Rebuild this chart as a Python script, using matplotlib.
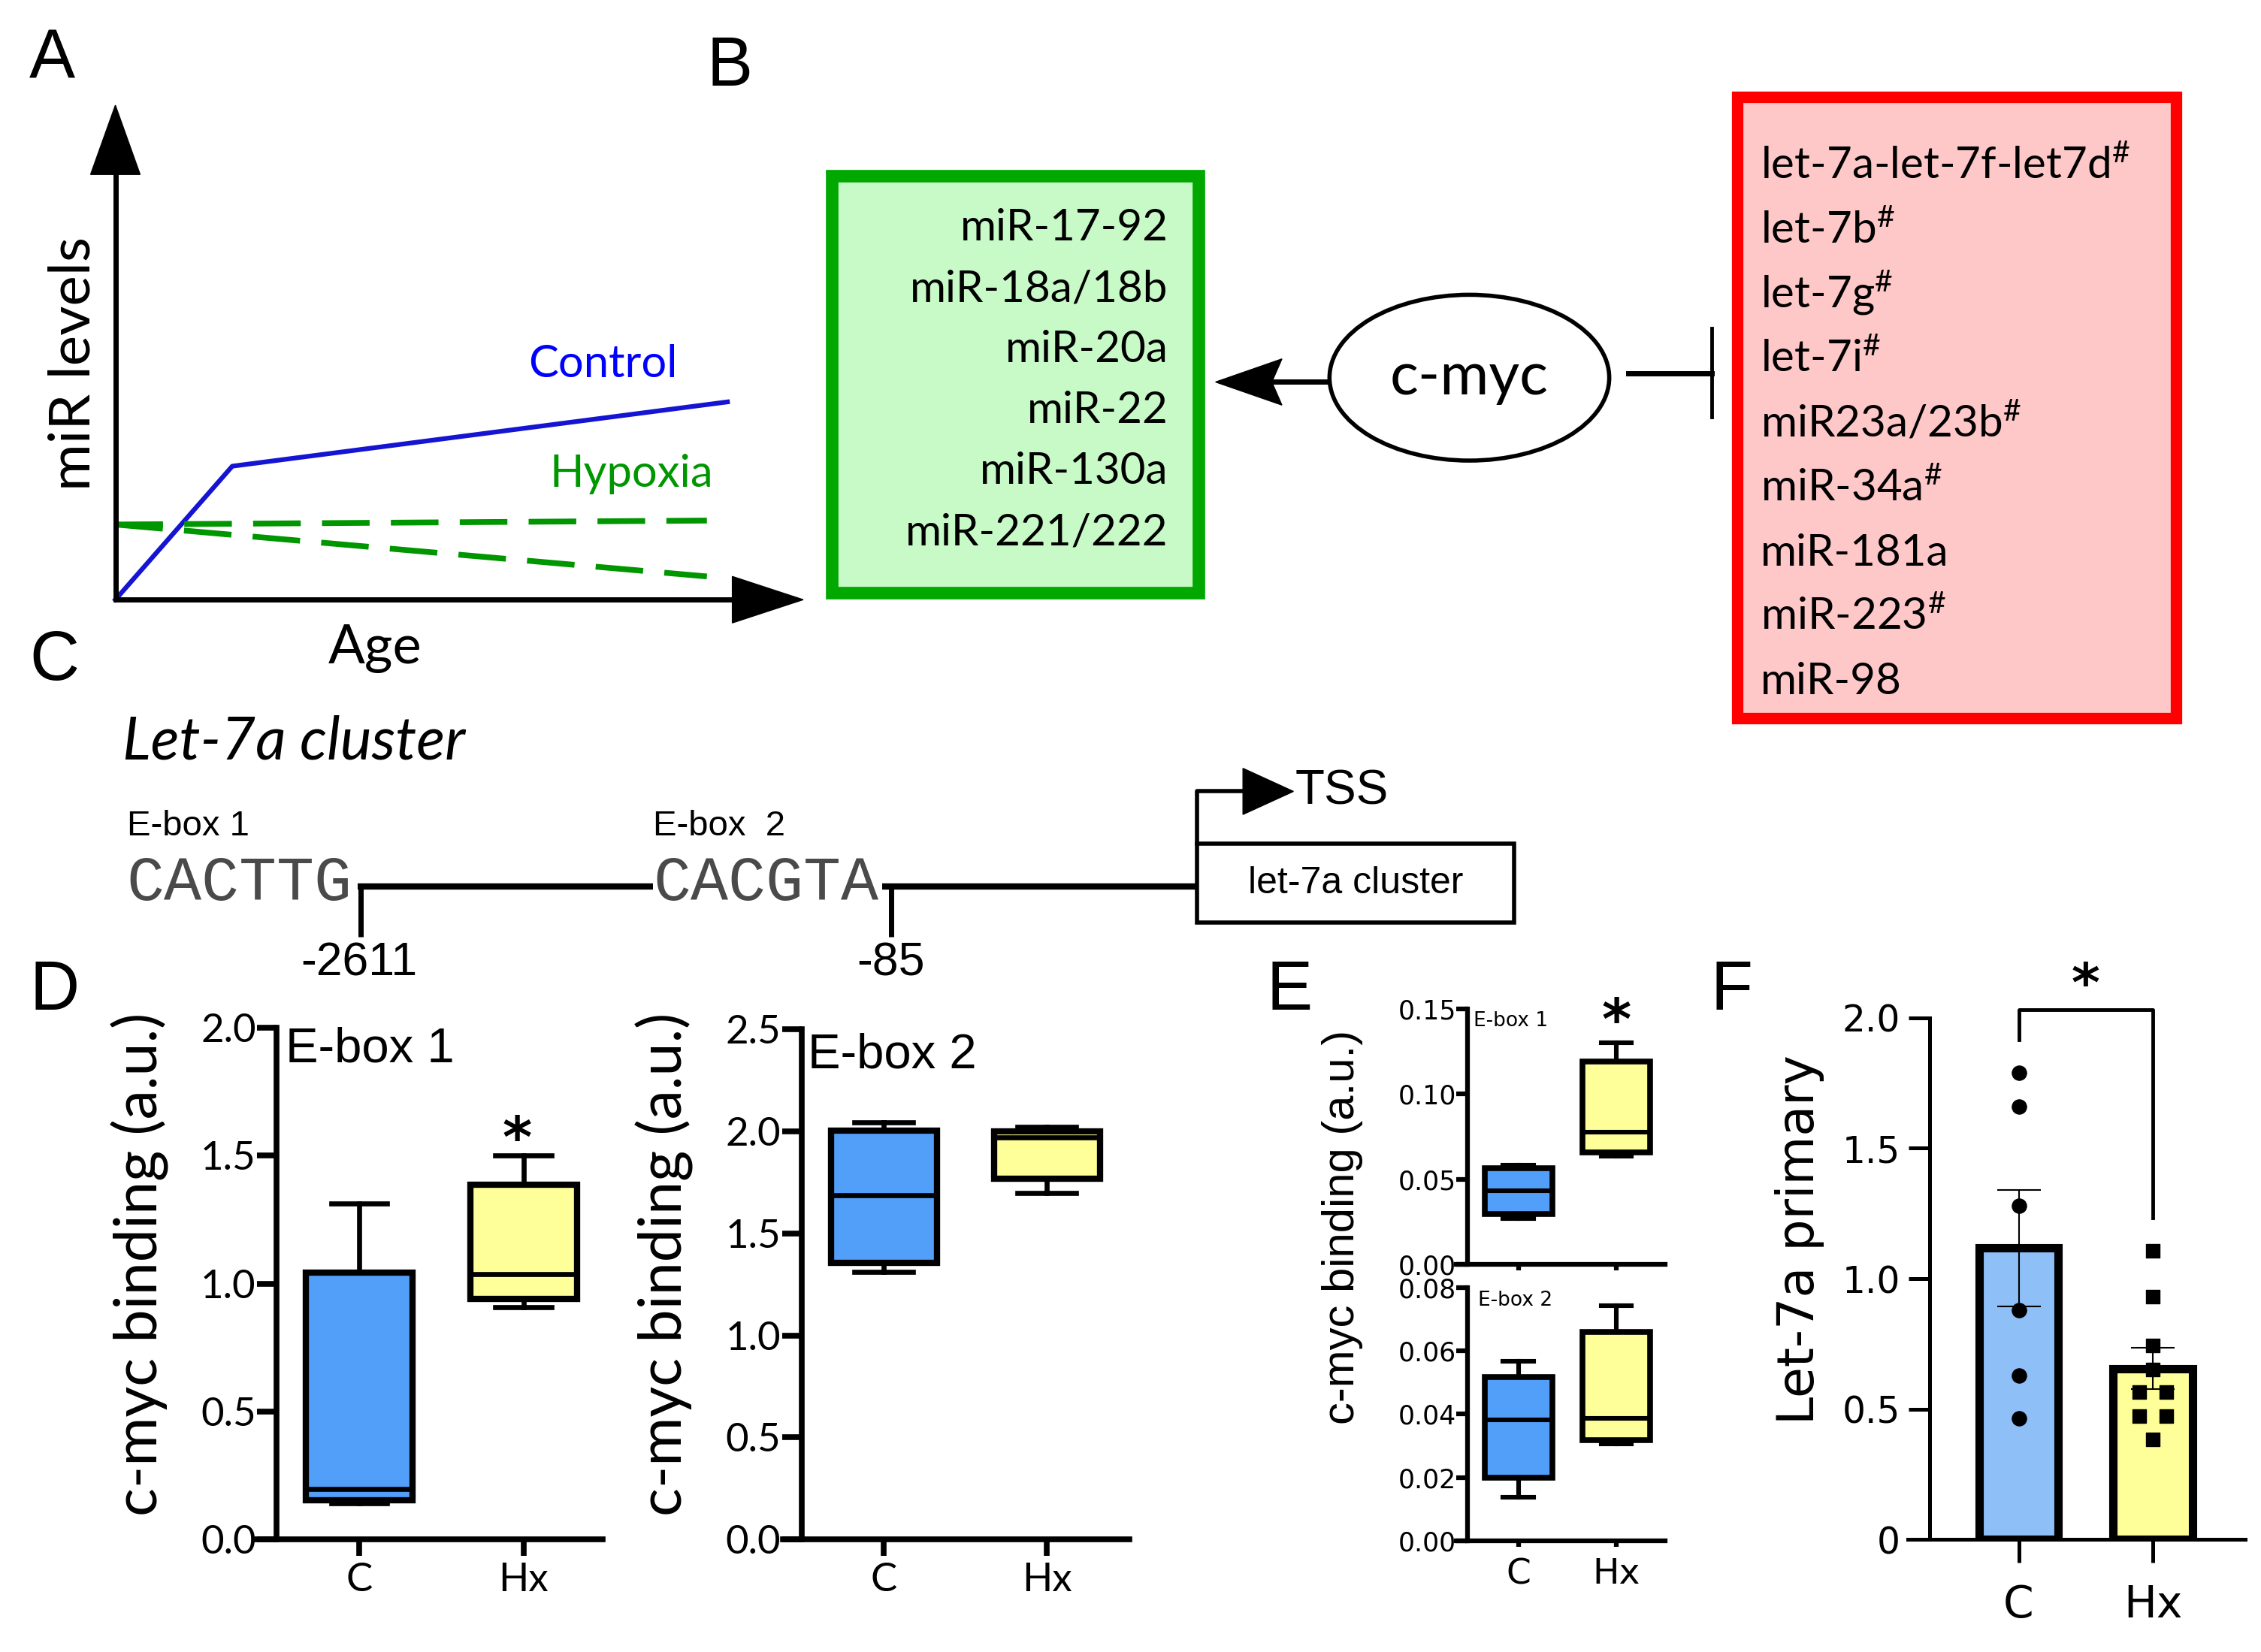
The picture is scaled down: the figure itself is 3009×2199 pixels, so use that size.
import numpy as np
import matplotlib.pyplot as plt
from matplotlib.patches import Rectangle, Ellipse, Polygon

plt.rcParams['font.family'] = ['Lato', 'DejaVu Sans']
plt.rcParams['mathtext.fontset'] = 'custom'
plt.rcParams['mathtext.rm'] = 'Lato'
plt.rcParams['mathtext.it'] = 'Lato:italic'
plt.rcParams['mathtext.bf'] = 'Lato:bold'

# ---- data ----
# A: schematic miR levels vs age
age = [0.0, 0.17, 0.89]
control = [0.0, 0.27, 0.40]
hyp_age = [0.0, 0.86]
hyp_high = [0.152, 0.160]
hyp_low = [0.152, 0.047]

# B: miRs induced / repressed by c-myc
up_mirs = ["miR-17-92", "miR-18a/18b", "miR-20a", "miR-22", "miR-130a", "miR-221/222"]
down_mirs = ["let-7a-let-7f-let7d", "let-7b", "let-7g", "let-7i", "miR23a/23b",
             "miR-34a", "miR-181a", "miR-223", "miR-98"]
down_marked = [True, True, True, True, True, True, False, True, False]

groups = ["C", "Hx"]
# box stats: whisker low, q1, median, q3, whisker high
d1_c = [0.142, 0.153, 0.198, 1.042, 1.314]
d1_hx = [0.908, 0.940, 1.038, 1.386, 1.501]
d2_c = [1.312, 1.357, 1.687, 2.005, 2.043]
d2_hx = [1.698, 1.769, 1.972, 2.001, 2.021]
e1_c = [0.0268, 0.0295, 0.0434, 0.0563, 0.0584]
e1_hx = [0.0635, 0.0656, 0.0777, 0.119, 0.130]
e2_c = [0.0139, 0.020, 0.0383, 0.0517, 0.0566]
e2_hx = [0.0307, 0.0319, 0.0386, 0.0659, 0.0743]

# F: let-7a primary, individual animals
f_c = [1.79, 1.66, 1.28, 0.88, 0.63, 0.465]
f_hx = [1.106, 0.932, 0.744, 0.653, 0.566, 0.566, 0.474, 0.474, 0.383]

BLUE = '#529ffa'
YELLOW = '#ffff99'

W, H = 1568, 1146  # layout grid of the reference


def rect(x0, y0, x1, y1):
    return [x0 / W, 1 - y1 / H, (x1 - x0) / W, (y1 - y0) / H]


fig = plt.figure(figsize=(30.09, 21.99), dpi=100)
ov = fig.add_axes([0, 0, 1, 1])
ov.set_xlim(0, W)
ov.set_ylim(H, 0)
ov.axis('off')

SANS = ['Liberation Sans', 'DejaVu Sans']

# panel letters
for lab, x, y in [("A", 36, 42), ("B", 506, 47), ("C", 38, 459),
                  ("D", 38, 688), ("E", 894, 688), ("F", 1201, 688)]:
    ov.text(x, y, lab, fontsize=66, family=SANS, ha='center', va='center')

# ---- A ----
axA = fig.add_axes(rect(80, 73, 557, 416))
axA.set_xlim(0, 1)
axA.set_ylim(0, 1)
axA.axis('off')
axA.plot(age, control, color='#1414d2', lw=4.5, clip_on=False)
axA.plot(hyp_age, hyp_high, color='#009600', lw=5.5, dashes=(8.3, 3.7), clip_on=False)
axA.plot(hyp_age, hyp_low, color='#009600', lw=5.5, dashes=(8.3, 3.7), clip_on=False)
axA.plot([0, 0], [0, 0.87], color='k', lw=5, clip_on=False, solid_capstyle='butt')
axA.plot([0, 0.9], [0, 0], color='k', lw=5, clip_on=False, solid_capstyle='projecting')
axA.add_patch(Polygon([[0, 1], [-0.036, 0.86], [0.036, 0.86]], color='k', clip_on=False))
axA.add_patch(Polygon([[1, 0], [0.897, -0.047], [0.897, 0.047]], color='k', clip_on=False))
ov.text(418, 253, "Control", color='#0000ff', fontsize=43, ha='center', va='center')
ov.text(438, 329, "Hypoxia", color='#009600', fontsize=43, ha='center', va='center')
ov.text(51, 252, "miR levels", fontsize=55, rotation=90, ha='center', va='center')
ov.text(260, 450, "Age", fontsize=52, ha='center', va='center')

# ---- B ----
ov.add_patch(Rectangle((577, 122), 254, 289, fc='#c8fac8', ec='#00a800', lw=12))
for i, t in enumerate(up_mirs):
    ov.text(810, 167 + 42.2 * i, t, fontsize=42, ha='right', va='baseline')
ov.add_patch(Rectangle((1205, 67), 304, 431, fc='#ffc8c8', ec='#ff0000', lw=11))
for i, t in enumerate(down_mirs):
    lab = t + r"$^{\#}$" if down_marked[i] else t
    ov.text(1221, 124 + 44.7 * i, lab, fontsize=42, ha='left', va='baseline')

ov.add_patch(Ellipse((1019, 262), 194, 115, fc='white', ec='k', lw=4))
ov.text(1019, 262, "c-myc", fontsize=57, ha='center', va='center')
ov.plot([880, 921], [265, 265], color='k', lw=5)
ov.add_patch(Polygon([[843, 265], [889, 249], [882, 265], [889, 281]], color='k'))
ov.plot([1129, 1187], [259, 259], color='k', lw=5)
ov.plot([1187, 1187], [228, 289], color='k', lw=3.5)

# ---- C ----
ov.text(85, 515, "Let-7a cluster", fontsize=57, style='italic', ha='left', va='center')
ov.text(88, 573, "E-box 1", fontsize=34, family=SANS, ha='left', va='center')
ov.text(453, 573, "E-box  2", fontsize=34, family=SANS, ha='left', va='center')
ov.text(88, 613, "CACTTG", fontsize=60, family=['Liberation Mono', 'DejaVu Sans Mono'],
        color='#4a4a4a', ha='left', va='center')
ov.text(453, 613, "CACGTA", fontsize=60, family=['Liberation Mono', 'DejaVu Sans Mono'],
        color='#4a4a4a', ha='left', va='center')
ov.plot([248, 453], [615, 615], color='k', lw=6, solid_capstyle='butt')
ov.plot([612, 830], [615, 615], color='k', lw=6, solid_capstyle='butt')
ov.plot([250, 250], [613, 650], color='k', lw=5, solid_capstyle='butt')
ov.plot([618, 618], [613, 650], color='k', lw=5, solid_capstyle='butt')
ov.text(249, 668, "-2611", fontsize=45, family=SANS, ha='center', va='center')
ov.text(618, 668, "-85", fontsize=45, family=SANS, ha='center', va='center')
ov.add_patch(Rectangle((830, 585), 220, 55, fc='white', ec='k', lw=4))
ov.text(940, 613, "let-7a cluster", fontsize=36, family=SANS, ha='center', va='center')
ov.plot([830, 830, 866], [585, 549, 549], color='k', lw=4)
ov.add_patch(Polygon([[897, 549], [862, 533], [862, 565]], color='k'))
ov.text(898, 549, "TSS", fontsize=46, family=SANS, ha='left', va='center')


# ---- D / E / F axes ----
def frame(ax, xlim, yaxis_x, ylim, yticks, fmt, lw, ylen, xlen, font, fsize, ypad, xpad):
    ax.set_xlim(*xlim)
    ax.set_ylim(*ylim)
    ax.patch.set_alpha(0)
    for s in ['top', 'right']:
        ax.spines[s].set_visible(False)
    ax.spines['left'].set_position(('data', yaxis_x))
    ax.spines['left'].set_linewidth(lw)
    ax.spines['bottom'].set_linewidth(lw)
    ax.set_yticks(yticks)
    ax.set_yticklabels([fmt.format(v) for v in yticks])
    ax.set_xticks([1, 2])
    ax.tick_params(axis='y', length=ylen, width=lw, labelsize=fsize, pad=ypad,
                   labelfontfamily=font)
    ax.tick_params(axis='x', length=xlen, width=lw, labelsize=fsize, pad=xpad,
                   labelfontfamily=font)


def boxes(ax, data, widths, capw, lw):
    stats = [dict(whislo=v[0], q1=v[1], med=v[2], q3=v[3], whishi=v[4], fliers=[])
             for v in data]
    bp = ax.bxp(stats, positions=[1, 2], widths=widths, capwidths=capw, patch_artist=True,
                showfliers=False, manage_ticks=False,
                boxprops=dict(lw=lw, edgecolor='k'),
                medianprops=dict(color='k', lw=lw * 0.8),
                whiskerprops=dict(color='k', lw=lw * 0.8),
                capprops=dict(color='k', lw=lw * 0.8))
    for patch, c in zip(bp['boxes'], [BLUE, YELLOW]):
        patch.set_facecolor(c)


def star(ax, x, y, fs, **kw):
    # y is where the centre of the asterisk glyph should sit
    ax.annotate("*", xy=(x, y), xytext=(0, -0.56 * fs), textcoords='offset points',
                fontsize=fs, ha='center', va='baseline', annotation_clip=False, **kw)


# D left
axD1 = fig.add_axes(rect(178, 713, 418, 1068))
boxes(axD1, [d1_c, d1_hx], 0.65, 0.34, 6)
frame(axD1, (0.377, 2.482), 0.5, (0, 2.0), [0, 0.5, 1.0, 1.5, 2.0], "{:.1f}",
      5.5, 19, 16, 'Lato', 38, 1, 6)
axD1.set_xticklabels(groups)
star(axD1, 1.96, 1.62, 54, family='DejaVu Sans', fontweight='bold')
ov.text(198, 728, "E-box 1", fontsize=47, family=SANS, ha='left', va='center')
ov.text(97, 877, "c-myc binding (a.u.)", fontsize=57, rotation=90, ha='center', va='center')

# D right
axD2 = fig.add_axes(rect(543, 714, 783, 1068))
boxes(axD2, [d2_c, d2_hx], 0.65, 0.36, 6)
frame(axD2, (0.381, 2.504), 0.496, (0, 2.5), [0, 0.5, 1.0, 1.5, 2.0, 2.5], "{:.1f}",
      5.5, 19, 16, 'Lato', 38, 1, 6)
axD2.set_xticklabels(groups)
ov.text(560, 732, "E-box 2", fontsize=47, family=SANS, ha='left', va='center')
ov.text(461, 877, "c-myc binding (a.u.)", fontsize=57, rotation=90, ha='center', va='center')

# E top / bottom
axE1 = fig.add_axes(rect(1010, 700, 1155, 877))
boxes(axE1, [e1_c, e1_hx], 0.69, 0.31, 5.5)
frame(axE1, (0.368, 2.5), 0.485, (0, 0.15), [0, 0.05, 0.10, 0.15], "{:.2f}",
      4.5, 11, 6, 'DejaVu Sans', 25, 0, 10)
axE1.set_xticklabels([])
star(axE1, 2, 0.151, 54, family='DejaVu Sans', fontweight='bold')
ov.text(1022, 708, "E-box 1", fontsize=19, family='DejaVu Sans', ha='left', va='center')

axE2 = fig.add_axes(rect(1010, 893, 1155, 1069))
boxes(axE2, [e2_c, e2_hx], 0.69, 0.31, 5.5)
frame(axE2, (0.368, 2.5), 0.485, (0, 0.08), [0, 0.02, 0.04, 0.06, 0.08], "{:.2f}",
      4.5, 11, 6, 'DejaVu Sans', 25, 0, 10)
axE2.set_xticklabels(groups)
axE2.tick_params(axis='x', labelsize=34)
ov.text(1025, 902, "E-box 2", fontsize=19, family='DejaVu Sans', ha='left', va='center')
ov.text(931, 851, "c-myc binding (a.u.)", fontsize=43, family=SANS, rotation=90,
        ha='center', va='center')

# F
axF = fig.add_axes(rect(1323, 706, 1557, 1068))
frame(axF, (0.172, 2.688), 0.333, (0, 2.0), [0, 0.5, 1.0, 1.5, 2.0], "{:g}",
      3.6, 20, 22, 'DejaVu Sans', 35, 8, 20)
axF.set_yticklabels(['0', '0.5', '1.0', '1.5', '2.0'])
axF.tick_params(axis='x', labelsize=42)
vals = [np.array(f_c), np.array(f_hx)]
means = [v.mean() for v in vals]
sems = [v.std(ddof=1) / np.sqrt(len(v)) for v in vals]
axF.bar([1, 2], means, width=0.59, color=['#8fbff7', YELLOW], edgecolor='k', lw=8, zorder=2)
axF.errorbar([1, 2], means, yerr=sems, fmt='none', ecolor='k', elinewidth=1.5,
             capsize=21, capthick=1.5, zorder=3)


def spread(v):
    off = np.zeros(len(v))
    for val in set(v):
        idx = [i for i, x in enumerate(v) if x == val]
        if len(idx) == 2:
            off[idx[0]] -= 0.1
            off[idx[1]] += 0.1
    return off


axF.scatter(1 + spread(f_c), f_c, marker='o', s=190, color='k', zorder=4)
axF.scatter(2 + spread(f_hx), f_hx, marker='s', s=170, color='k', zorder=4)
axF.plot([1, 1, 2, 2], [1.916, 2.03, 2.03, 1.233], color='k', lw=3.5, clip_on=False)
star(axF, 1.5, 2.18, 52, family='DejaVu Sans', fontweight='bold')
axF.set_xticklabels(groups)
ov.text(1248, 860, "Let-7a primary", fontsize=48, family='DejaVu Sans', rotation=90,
        ha='center', va='center')

fig.savefig("out.png", dpi=100)
